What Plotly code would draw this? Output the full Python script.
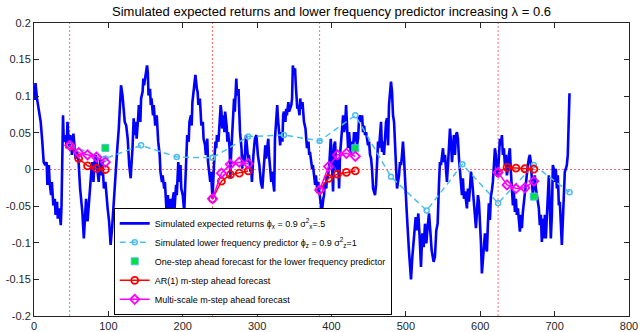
import plotly.graph_objects as go

# ---------------- data ----------------
t_ret = [1, 2, 4, 7, 9, 11, 13, 15, 17, 18, 20, 21, 23, 24, 26, 28, 29, 31, 32, 34, 36, 37, 39, 40, 42, 44, 45, 47, 48, 49,
         51, 53, 54, 56, 58, 60, 62, 63, 65, 67, 69, 70, 72, 74, 76, 78, 80, 81, 83, 85, 87, 89, 90, 92, 94, 96, 97, 99, 101, 103,
         105, 106, 108, 110, 112, 114, 115, 117, 119, 121, 122, 124, 126, 128, 130, 131, 132.5,
         134, 135, 137, 138, 140, 141, 143, 144, 146, 147, 148, 150, 152, 153, 154, 156, 157, 158, 160, 161, 163, 165, 166, 167,
         169, 170, 172, 173, 175, 176, 178, 180, 181, 183, 185, 186, 188, 189, 191, 192, 194, 196, 197, 198, 200, 202, 203, 205,
         206, 208, 209, 211, 212, 213, 215, 216, 217, 219, 220, 221, 223, 224, 225, 227, 228, 230, 231, 233, 234, 236, 237, 238,
         239, 240, 242, 244, 245, 246, 248, 249, 251, 252, 253, 255, 256, 257, 259, 260, 261, 263, 264, 265,
         266, 268, 269, 270, 272, 273, 275, 276, 277, 279, 280, 281, 283, 284, 285, 287, 288, 289, 291, 292, 293, 295, 296, 297,
         299, 300, 301, 303, 304, 305, 307, 308, 310, 311, 312, 314, 315, 316, 318, 319, 320, 322, 323, 324, 326, 327, 328, 330,
         331, 332, 334, 335, 336, 338, 339, 340, 342, 343, 344, 346, 347, 348, 350, 351, 352, 354, 355, 357, 358, 359, 361, 362,
         363, 365, 366, 367, 369, 370, 371, 373, 374, 375, 377, 378, 379, 381, 382, 383, 384, 386, 387, 389, 390, 391, 393, 394,
         395, 397, 398, 399,
         400.8, 402.1, 403.5, 404.8, 406.2, 407.5, 408.9, 410.2, 411.5, 412.9, 414.2, 415.6, 416.9, 418.3, 419.6, 421.0, 422.3,
         423.6, 425.0, 426.3, 427.7, 429.0, 430.3, 431.7, 433.0, 434.4, 435.7, 437.1, 438.4, 439.7, 441.1, 442.4, 443.8, 445.1,
         446.5, 447.8, 449.1, 450.5, 451.8, 453.2, 454.5, 455.9, 457.2, 458.5, 459.9, 461.2, 462.6, 463.9, 465.3, 466.6, 467.9,
         469.3, 470.6, 472.0, 473.3, 474.7, 476.0, 477.3, 478.7, 480.0, 481.4, 482.7, 484.1, 485.4, 486.7, 488.1, 489.4, 490.8,
         492.1, 493.5, 494.8, 496.1, 497.5, 498.8, 500.2,
         501.1, 504.2, 506.9, 508.7, 511.4, 513.2, 515.0, 516.7, 518.5, 520.3, 522.1, 523.9, 525.7, 527.5, 529.3, 531.1, 532.8,
         534.6, 537.3, 539.1, 540.9, 542.7, 544.5,
         545.8, 547.2, 548.5, 549.9, 551.2, 552.6, 553.9, 555.2, 556.6, 557.9, 559.3, 560.6, 562.0, 563.3, 564.6, 566.0, 567.3,
         568.7, 570.0, 571.4, 572.7, 574.0, 575.4, 576.7, 578.1, 579.4, 580.8, 582.1, 583.4, 584.8, 586.1, 587.5, 588.8, 590.2,
         591.5, 592.8, 594.2, 595.5, 596.9, 598.2, 599.6, 600.9, 602.2, 603.6, 604.9, 606.3, 607.6, 609.0, 610.3, 611.6, 613.0,
         614.3, 615.7, 617.0, 618.4, 619.7, 621.0, 622.4, 623.0, 624.0, 626.4, 627.8, 629.1, 630.4, 631.8, 633.1, 634.5, 635.8,
         637.2, 638.5, 639.8, 641.2, 642.5, 643.9, 645.2, 646.6, 647.9, 649.2, 650.6, 651.9, 653.3, 654.6, 656.0, 657.3, 658.6,
         660.0, 661.3, 662.7, 664.0, 665.4, 666.7, 668.0, 669.4, 670.7, 672.1,
         673.4, 674.8, 676.1, 677.5, 678.8, 680.1, 681.5, 682.8, 684.2, 685.5, 686.9, 688.2, 689.5, 690.9, 692.2, 693.6, 694.9,
         696.3, 697.6, 698.9, 700.3, 701.6, 703.0, 704.3, 705.7, 707.0, 708.3, 709.7, 711.0, 712.4, 713.7, 715.1, 716.4, 717.7,
         719.1, 720]

r_ret = [0.095, 0.118, 0.097, 0.074, 0.065, 0.040, 0.010, 0.006, 0.010, -0.021, 0.006, -0.017, -0.035, -0.017, -0.049, -0.040,
         -0.062, -0.044, -0.067, -0.053, -0.076, -0.049, 0.074, 0.038, 0.047, 0.029, 0.065, 0.033, 0.033, 0.047,
         0.020, 0.049, 0.038, 0.015, 0.024, 0.010, -0.026, -0.035, -0.058, -0.094, -0.062, -0.040, -0.071, -0.044, -0.030, 0.010,
         -0.017, 0.006, 0.020, -0.003, -0.017, 0.015, -0.008, 0.010, -0.026, -0.017, -0.035, -0.053, -0.071, -0.103,
         -0.080, -0.062, -0.026, -0.003, 0.029, 0.056, 0.083, 0.115, 0.101, 0.079, 0.065, 0.060, 0.042, 0.006, -0.012, 0.006, 0.030,
         0.070, 0.047, 0.065, 0.042, 0.070, 0.088, 0.065, 0.097, 0.106, 0.124, 0.115, 0.129, 0.142, 0.133, 0.101, 0.110, 0.088,
         0.097, 0.074, 0.088, 0.060, 0.074, 0.051, 0.038,
         0.020, -0.003, -0.017, -0.008, -0.026, -0.017, -0.053, -0.035, -0.058, -0.040, -0.062, -0.044, -0.031, -0.053, -0.021,
         -0.035, 0.010, -0.017, 0.006, -0.026, -0.035, -0.058, -0.030, 0.024,
         0.047, 0.038, 0.065, 0.074, 0.060, 0.092, 0.110, 0.124, 0.129, 0.110, 0.106, 0.088, 0.097, 0.079, 0.060, 0.065, 0.042,
         0.033, 0.020, 0.042, 0.010, -0.008, -0.017, -0.003,
         -0.025, -0.040, 0.006, 0.038, 0.029, 0.047, 0.038, 0.060, 0.088, 0.079, 0.056, 0.074, 0.051, 0.079, 0.060, 0.038, 0.051,
         0.029, -0.012, 0.020,
         0.038, 0.065, 0.097, 0.079, 0.124, 0.101, 0.110, 0.079, 0.051, 0.029, 0.001, 0.020, 0.010, 0.029, 0.047, 0.024, 0.010,
         0.020, -0.003, 0.001, -0.017, 0.020, 0.029, 0.042,
         0.047, 0.033, 0.020, 0.006, -0.008, -0.017, -0.026, -0.008, 0.020, 0.033, 0.015, 0.029, 0.042, 0.020, -0.003, -0.017,
         -0.003, -0.017, -0.030, 0.042, 0.074, 0.088, 0.070, 0.047,
         0.033, 0.051, 0.038, 0.074, 0.079, 0.065, 0.083, 0.074, 0.092, 0.079, 0.083, 0.088, 0.097, 0.142, 0.129, 0.138, 0.115,
         0.083, 0.088, 0.074, 0.097, 0.083, 0.092, 0.074,
         0.065, 0.056, 0.042, 0.029, 0.038, 0.020, 0.024, 0.010, 0.001, 0.006, -0.012, -0.021, -0.008, -0.030, -0.017, -0.026,
         -0.028, -0.049, -0.058, -0.040, -0.035, -0.017, -0.026, -0.008,
         -0.012, 0.006, 0.020, 0.042,
         0.006, -0.030, 0.033, 0.038, 0.006, -0.003, 0.015, -0.026, 0.020, 0.042, 0.056, 0.074, 0.051, 0.060, 0.088, 0.042, 0.029,
         0.051, 0.033, 0.020, 0.038, 0.029, 0.051, 0.038, 0.051, 0.033, 0.042, 0.070, 0.074, 0.065, 0.074, 0.051, 0.060, 0.047,
         0.051, 0.042, 0.033, 0.038, 0.020, 0.015, 0.001, -0.026, -0.030, -0.035, -0.021, 0.010, 0.038, 0.029, 0.056, 0.065, 0.024,
         0.038, 0.020, 0.042, 0.065, 0.070, 0.033, 0.088, 0.101, 0.120, 0.106, 0.074, 0.065, 0.038, 0.001, -0.026, -0.017, -0.008,
         0.010, 0.006, 0.020, 0.038, 0.015, -0.017, -0.040,
         -0.057, -0.112, -0.150, -0.119, -0.078, -0.065, -0.083, -0.060, -0.092, -0.133, -0.087, -0.106, -0.074, -0.101, -0.078,
         -0.060, -0.083, -0.110, -0.126, -0.119, -0.083, -0.074, -0.020,
         0.010, 0.006, 0.020, 0.029, 0.010, 0.020, 0.001, -0.017, 0.006, 0.038, 0.056, 0.038, 0.010, 0.029, 0.047, 0.020, 0.047,
         0.051, 0.042, 0.015, -0.003, -0.026, -0.035, -0.012, -0.040, -0.030, -0.044, -0.053, -0.026, -0.044, -0.026, -0.003,
         -0.012, -0.026, -0.044, -0.062, -0.080, -0.053, -0.035, -0.044, -0.071, -0.099, -0.142, -0.119, -0.100, -0.087, -0.106,
         -0.112, -0.074, -0.046, -0.069, -0.037, -0.028, -0.017, 0.006, 0.029, 0.020, 0.006, -0.010, -0.004, 0.042, 0.033, 0.047,
         0.020, 0.029, 0.006, 0.020, -0.008, 0.001, 0.020, 0.029, -0.003, -0.026, -0.049, -0.030, -0.058, -0.040, -0.062, -0.053,
         -0.071, -0.085, -0.062, -0.080, -0.058, -0.044, -0.035, -0.017, -0.003, 0.006, 0.015, 0.020, 0.010, -0.017, -0.035,
         -0.021,
         -0.008, -0.026, -0.035, -0.049, -0.053, -0.076, -0.062, -0.099, -0.067, -0.094, -0.062, -0.094, -0.071, -0.030, -0.008,
         -0.053, -0.094, -0.062, 0.006, 0.001, -0.017, 0.001, -0.026, -0.008, -0.049, -0.044, -0.080, -0.103, -0.071, -0.017,
         -0.003, 0.001, 0.006, 0.020, 0.065, 0.104]

t_low = [48, 96, 144, 192, 240, 288, 336, 384, 432, 480, 528, 576, 624, 672, 720]
z_low = [0.033, 0.015, 0.033, 0.017, 0.016, 0.045, 0.047, 0.039, 0.074, -0.010, -0.056, 0.007, -0.046, 0.006, -0.031]

t_onestep = [96, 432, 672]
z_onestep = [0.0295, 0.029, -0.037]

origins = [48, 240, 384, 624]

t_fc = [[48, 60, 72, 84, 96], [240, 252, 264, 276, 288], [384, 396, 408, 420, 432], [624, 636, 648, 660, 672]]
ar1_fc = [[0.033, 0.015, 0.005, 0.0014, 0.0],
          [-0.040, -0.016, -0.007, -0.005, -0.002],
          [-0.028, -0.012, -0.0064, -0.004, -0.002],
          [-0.004, 0.003, 0.002, 0.001, 0.0005]]
ms_fc = [[0.033, 0.023, 0.020, 0.017, 0.010],
         [-0.040, -0.005, 0.007, 0.010, 0.008],
         [-0.028, 0.004, 0.020, 0.022, 0.018],
         [-0.004, -0.021, -0.026, -0.025, -0.016]]

x_ticks = [0, 100, 200, 300, 400, 500, 600, 700, 800]
y_ticks = [-0.2, -0.15, -0.1, -0.05, 0, 0.05, 0.1, 0.15, 0.2]
y_tick_text = ["-0.2", "-0.15", "-0.1", "-0.05", "0", "0.05", "0.1", "0.15", "0.2"]

title_text = "Simulated expected returns and lower frequency predictor increasing λ = 0.6"
names = ["Simulated expected returns ϕ<sub>x</sub> = 0.9 σ<sup>2</sup><sub>x</sub>=.5",
         "Simulated lower frequency predictor ϕ<sub>z</sub> = 0.9 σ<sup>2</sup><sub>z</sub>=1",
         "One-step ahead forecast for the lower frequency predictor",
         "AR(1) m-step ahead forecast",
         "Multi-scale m-step ahead forecast"]

# ---------------- figure ----------------
FONT = "Liberation Sans, Arial, Helvetica, sans-serif"
fig = go.Figure()

fig.add_trace(go.Scatter(x=t_ret, y=r_ret, mode="lines", name=names[0],
                         line=dict(color="#0000FF", width=2.6)))
fig.add_trace(go.Scatter(x=t_low, y=z_low, mode="lines+markers", name=names[1],
                         line=dict(color="#4DBEEE", width=1.5, dash="6px,4px"),
                         marker=dict(symbol="circle-open", size=5, color="#4DBEEE", line=dict(width=1.5))))
fig.add_trace(go.Scatter(x=t_onestep, y=z_onestep, mode="markers", name=names[2],
                         marker=dict(symbol="square", size=7, color="#00E040",
                                     line=dict(color="#4DBEEE", width=1))))
for i in range(len(t_fc)):
    fig.add_trace(go.Scatter(x=t_fc[i], y=ar1_fc[i], mode="lines+markers", name=names[3],
                             showlegend=(i == 0), legendgroup="ar1",
                             line=dict(color="#FF0000", width=1.5),
                             marker=dict(symbol="circle-open", size=7, color="#FF0000", line=dict(width=1.8))))
for i in range(len(t_fc)):
    fig.add_trace(go.Scatter(x=t_fc[i], y=ms_fc[i], mode="lines+markers", name=names[4],
                             showlegend=(i == 0), legendgroup="ms",
                             line=dict(color="#FF00FF", width=1.5),
                             marker=dict(symbol="diamond-open", size=7, color="#FF00FF", line=dict(width=1.8))))

shapes = []
for o in origins:
    shapes.append(dict(type="line", xref="x", yref="paper", x0=o, x1=o, y0=0, y1=1,
                       line=dict(color="#FF7070", width=1, dash="2px,2px"), layer="below"))
shapes.append(dict(type="line", xref="paper", yref="y", x0=0, x1=1, y0=0, y1=0,
                   line=dict(color="#FF7070", width=1, dash="2px,2px"), layer="below"))

axis_common = dict(showgrid=False, zeroline=False, showline=True, linecolor="#262626", linewidth=1,
                   mirror="ticks", ticks="inside", ticklen=5, tickwidth=1, tickcolor="#262626",
                   tickfont=dict(family=FONT, size=11, color="#262626"), automargin=False)

fig.update_layout(
    width=640, height=332,
    margin=dict(l=34, r=11, t=23, b=16, pad=0, autoexpand=False),
    paper_bgcolor="white", plot_bgcolor="white",
    title=dict(text=title_text, x=0.5, xref="paper", xanchor="center",
               y=1 - 11 / 332, yref="container", yanchor="middle",
               font=dict(family=FONT, size=13, color="#000000")),
    xaxis=dict(range=[0, 800], tickvals=x_ticks, ticktext=[str(v) for v in x_ticks], **axis_common),
    yaxis=dict(range=[-0.2, 0.2], tickvals=y_ticks, ticktext=y_tick_text, **axis_common),
    shapes=shapes,
    showlegend=True,
    legend=dict(x=0.134, y=0.004, xanchor="left", yanchor="bottom",
                bgcolor="white", bordercolor="#000000", borderwidth=1,
                font=dict(family=FONT, size=9, color="#000000"),
                tracegroupgap=0, itemwidth=30),
)

fig.write_html("out.html")
